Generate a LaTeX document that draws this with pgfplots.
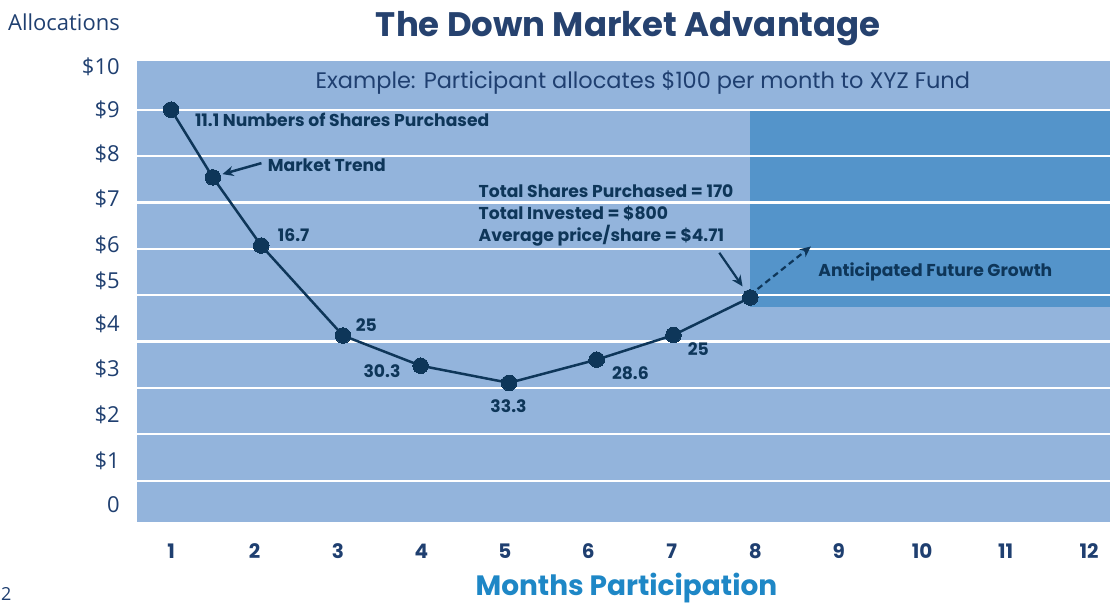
\documentclass[border=0pt]{standalone}
\usepackage{fontspec}
\setmainfont{Poppins}
\newfontfamily\osans{Open Sans}
\usepackage{pgfplots}
\pgfplotsset{compat=1.18}
\usetikzlibrary{arrows.meta}
\definecolor{bgblue}{HTML}{93B4DC}
\definecolor{darkblue}{HTML}{5494CA}
\definecolor{navy}{HTML}{0E3659}
\definecolor{titleblue}{HTML}{26426F}
\definecolor{tickblue}{HTML}{1F3F70}
\definecolor{brightblue}{HTML}{1E87C6}
\begin{document}
\begin{tikzpicture}
\begin{axis}[
  set layers,
  at={(137pt,83pt)}, anchor=south west, scale only axis,
  width=974pt, height=462pt,
  xmin=0.59, xmax=12.25, ymin=0.1, ymax=10.05,
  axis line style={draw=none},
  major tick length=0pt,
  xtick={1,...,12},
  xticklabels={1,2,3,4,5,6,7,8,9,10,11,12},
  xticklabel style={font=\fontsize{20}{20}\selectfont\bfseries, text=tickblue, anchor=center, yshift=-29pt},
  ytick={0.48,1.44,2.43,3.42,4.38,5.31,6.09,7.08,8.05,9.0,9.93},
  yticklabels={0,\$1,\$2,\$3,\$4,\$5,\$6,\$7,\$8,\$9,\$10},
  yticklabel style={font=\osans\fontsize{22}{22}\selectfont, text=tickblue, anchor=east, inner sep=0pt, xshift=-17pt},
  extra y ticks={1,2,3,4,5,6,7,8,9},
  extra y tick labels={},
  extra y tick style={grid=major},
  major grid style={white, line width=2.2pt},
  clip=false,
]
\addplot[fill=bgblue, draw=none, on layer=axis background] coordinates {(0.59,0.1) (12.25,0.1) (12.25,10.05) (0.59,10.05)} -- cycle;
\addplot[fill=darkblue, draw=none, on layer=axis background] coordinates {(7.94,4.75) (12.25,4.75) (12.25,9) (7.94,9)} -- cycle;
\addplot[navy, line width=2.5pt, mark=*, mark size=7.8pt, mark options={solid, fill=navy, draw=navy, line width=0pt}] coordinates {
 (1,9.00) (1.5,7.54) (2.08,6.07) (3.06,4.13) (3.99,3.48) (5.05,3.11) (6.10,3.61) (7.02,4.14) (7.94,4.95)};
\end{axis}
\begin{scope}[x=1pt, y=-1pt, shift={(0pt,606pt)}]
  % title and outer labels
  \node[anchor=base, text=titleblue, font=\fontsize{34}{34}\selectfont\bfseries] at (629,36.7) {The Down Market Advantage};
  \node[anchor=base west, inner sep=0pt, text=tickblue, font=\osans\fontsize{22}{22}\selectfont] at (8,31) {Allocations};
  \node[anchor=base, inner sep=0pt, text=brightblue, font=\fontsize{28}{28}\selectfont\bfseries] at (627,596.5) {Months Participation};
  \node[anchor=north west, inner sep=0pt, text=tickblue, font=\osans\fontsize{18}{18}\selectfont] at (1,588) {2};
  % example text
  \node[anchor=base, inner sep=0pt, text=tickblue, font=\fontsize{22.5}{22.5}\selectfont] at (643.5,89) {Example: Participant allocates \$100 per month to XYZ Fund};
  % data labels
  \begin{scope}[every node/.style={inner sep=0pt, text=navy, font=\fontsize{17.2}{17.2}\selectfont\bfseries}]
    \node[anchor=base west] at (195,127) {11.1 Numbers of Shares Purchased};
    \node[anchor=base west] at (268,172) {Market Trend};
    \node[anchor=base west] at (278,242) {16.7};
    \node[anchor=base west] at (356,332) {25};
    \node[anchor=base east] at (401,378) {30.3};
    \node[anchor=base] at (509,413) {33.3};
    \node[anchor=base] at (631,380) {28.6};
    \node[anchor=base] at (699,356) {25};
    \node[anchor=base west] at (479,198) {Total Shares Purchased = 170};
    \node[anchor=base west] at (479,220) {Total Invested = \$800};
    \node[anchor=base west] at (479,241.5) {Average price/share = \$4.71};
    \node[anchor=base west] at (819,277) {Anticipated Future Growth};
  \end{scope}
  % arrows
  \draw[navy, line width=2.5pt, -{Stealth[length=11pt, width=10pt]}] (261.7,163.3) -- (222.7,174.3);
  \draw[navy, line width=2.2pt, -{Stealth[length=11pt, width=10pt]}] (720,253) -- (743.3,286.7);
  \draw[navy, line width=2.2pt, dash pattern=on 6pt off 4pt, -{Stealth[length=11pt, width=10pt]}] (758.3,289.3) -- (811.7,246.7);
\end{scope}
\useasboundingbox (0,0) rectangle (1111pt,606pt);
\end{tikzpicture}
\end{document}
